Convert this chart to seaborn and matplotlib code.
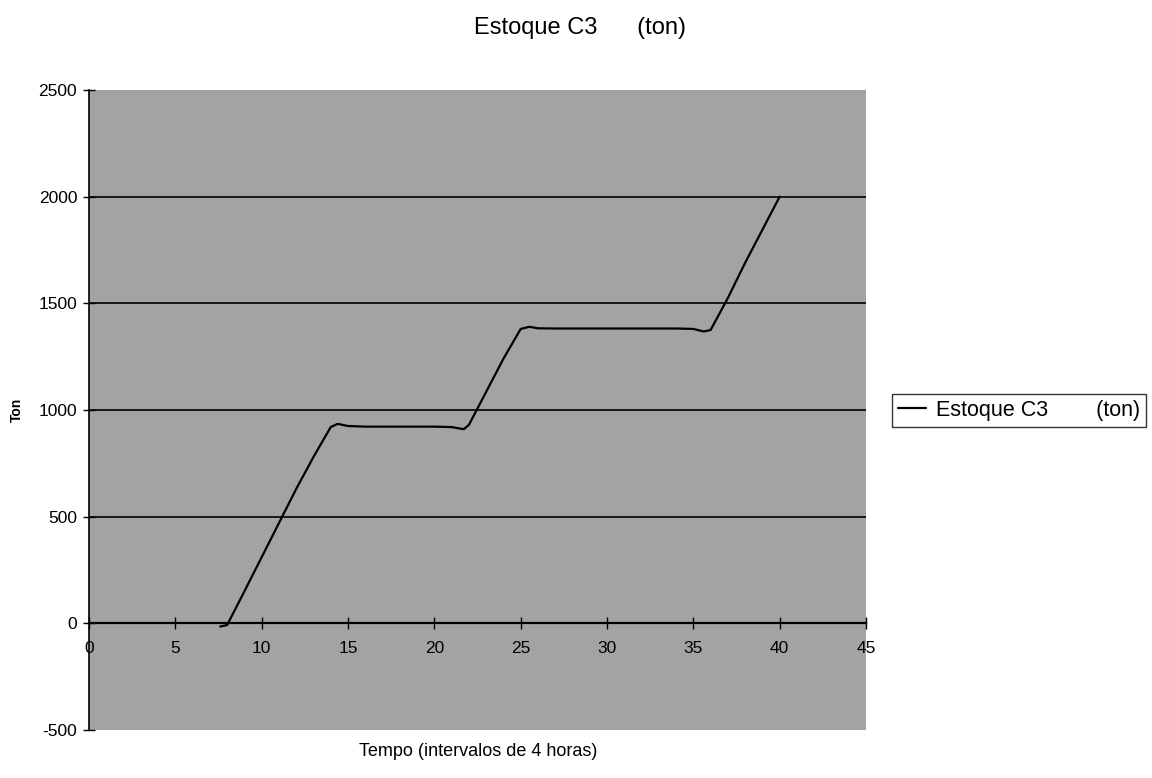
import matplotlib
matplotlib.use("Agg")
import matplotlib.pyplot as plt
import seaborn as sns
import pandas as pd

# ---- data ----
tempo = [7.6, 8.0, 9, 10, 11, 12, 13, 14, 14.4, 15, 16, 17, 18, 19, 20, 21, 21.7,
         22, 23, 24, 25, 25.5, 26, 27, 28, 29, 30, 31, 32, 33, 34, 35, 35.6, 36,
         37, 38, 39, 40]
estoque = [-15, -8, 150, 310, 470, 630, 780, 920, 935, 925, 922, 922, 922, 922, 922, 920, 910,
           930, 1085, 1240, 1380, 1390, 1383, 1382, 1382, 1382, 1382, 1382, 1382, 1382, 1382, 1380, 1368, 1375,
           1525, 1690, 1845, 2000]
series_name = "Estoque C3        (ton)"
title_text = "Estoque C3      (ton)"
x_ticks = [0, 5, 10, 15, 20, 25, 30, 35, 40, 45]
y_ticks = [-500, 0, 500, 1000, 1500, 2000, 2500]

df = pd.DataFrame({"Tempo": tempo, "Ton": estoque, "serie": series_name})

sns.set_theme(style="white")
plt.rcParams["font.family"] = ["Liberation Sans", "DejaVu Sans"]
plt.rcParams["axes.unicode_minus"] = False
plt.rcParams["text.color"] = "black"

fig = plt.figure(figsize=(11.52, 7.78), dpi=100)
ax = fig.add_axes([89 / 1152, 1 - 730 / 778, (866 - 89) / 1152, (730 - 90) / 778])
ax.set_facecolor("#a3a3a3")

sns.lineplot(data=df, x="Tempo", y="Ton", hue="serie", palette=["black"],
             sort=False, estimator=None, linewidth=1.6, ax=ax, legend=True)

ax.set_xlim(0, 45)
ax.set_ylim(-500, 2500)
ax.set_xticks(x_ticks)
ax.set_yticks(y_ticks)
ax.tick_params(axis="both", which="major", labelsize=12.5, colors="black",
               direction="inout", length=9, width=1, left=True, bottom=True)
ax.tick_params(axis="y", pad=4)
ax.tick_params(axis="x", pad=8)

ax.yaxis.grid(True, color="black", linewidth=1.2)
gl = ax.yaxis.get_gridlines()
gl[0].set_visible(False)
gl[-1].set_visible(False)
gl[1].set_visible(False)
ax.set_axisbelow(False)

for s in ["top", "right"]:
    ax.spines[s].set_visible(False)
ax.spines["left"].set_color("black")
ax.spines["left"].set_linewidth(1.2)
ax.spines["bottom"].set_position(("data", 0))
ax.spines["bottom"].set_color("black")
ax.spines["bottom"].set_linewidth(1.6)

ax.set_xlabel("")
ax.set_ylabel("")
fig.text(478 / 1152, 1 - 752 / 778, "Tempo (intervalos de 4 horas)", ha="center",
         va="center", fontsize=13, color="black")
fig.text(17 / 1152, 1 - 410 / 778, "Ton", rotation=90, ha="center", va="center",
         fontsize=10, fontweight="bold", color="black")
fig.text(580 / 1152, 1 - 28 / 778, title_text, ha="center", va="center", fontsize=17,
         color="black")

leg = ax.legend(loc="center left", bbox_to_anchor=(892 / 1152, 1 - 410.5 / 778),
                bbox_transform=fig.transFigure, frameon=True, fancybox=False,
                fontsize=15.5, handlelength=1.3, handletextpad=0.45,
                borderpad=0.28, borderaxespad=0)
leg.get_frame().set_edgecolor("black")
leg.get_frame().set_linewidth(1.0)
leg.get_frame().set_facecolor("white")
for t in leg.get_texts():
    t.set_color("black")

fig.savefig("out.png", dpi=100)
